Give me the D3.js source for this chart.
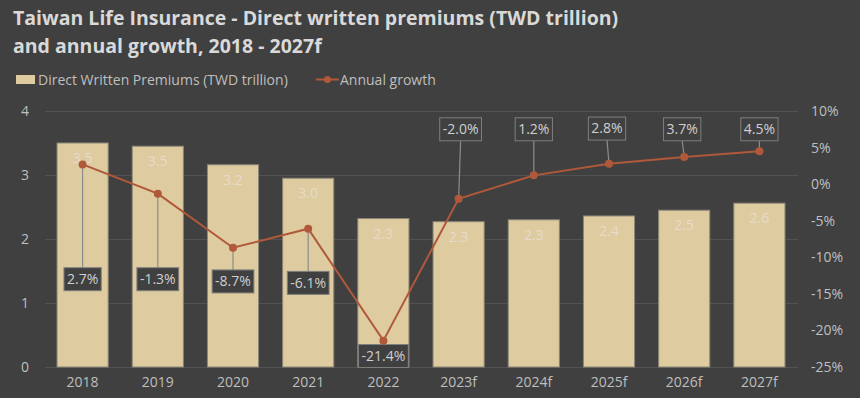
<!DOCTYPE html>
<html><head><meta charset="utf-8">
<script src="https://cdn.jsdelivr.net/npm/d3@7"></script>
<style>
html,body{margin:0;padding:0;background:#404040;}
svg{display:block;}
text{font-family:"Open Sans",Lato,sans-serif;}
</style></head>
<body>
<svg id="chart" width="860" height="398"></svg>
<script>
const categories = ["2018","2019","2020","2021","2022","2023f","2024f","2025f","2026f","2027f"];
const premiums = [3.50, 3.45, 3.16, 2.95, 2.32, 2.27, 2.30, 2.36, 2.45, 2.56];
const premiumLabels = ["3.5","3.5","3.2","3.0","2.3","2.3","2.3","2.4","2.5","2.6"];
const growth = [2.7, -1.3, -8.7, -6.1, -21.4, -2.0, 1.2, 2.8, 3.7, 4.5];
const growthLabels = ["2.7%","-1.3%","-8.7%","-6.1%","-21.4%","-2.0%","1.2%","2.8%","3.7%","4.5%"];
const leftTicks = [0,1,2,3,4];
const rightTicks = [-25,-20,-15,-10,-5,0,5,10];
// label box vertical placement (value on right axis where the callout box centre sits)
const calloutAt = [-13, -13, -13.3, -13.5, -23.5, 7.5, 7.5, 7.6, 7.5, 7.5];
const calloutDx = [0, 0, 0, 0, 0, 2, 0, -2, -2, 0];

const svg = d3.select("#chart");
const W = 860, H = 398;
const m = {left:45, right:63, top:111, bottom:31};
const x = d3.scaleBand().domain(categories).range([m.left, W - m.right]).paddingInner(0.32).paddingOuter(0.16);
const yL = d3.scaleLinear().domain([0,4]).range([H - m.bottom, m.top]);
const yR = d3.scaleLinear().domain([-25,10]).range([H - m.bottom, m.top]);
const cx = d => x(d) + x.bandwidth()/2;
const txt = "#bfbfbf";

// title
const title = svg.append("g").attr("fill","#d9d9d9").attr("font-weight","bold").attr("font-size","19.5px");
title.append("text").attr("x",13).attr("y",25).text("Taiwan Life Insurance - Direct written premiums (TWD trillion)");
title.append("text").attr("x",13).attr("y",53).text("and annual growth, 2018 - 2027f");

// legend
const lg = svg.append("g").attr("font-size","14px").attr("fill",txt);
lg.append("rect").attr("x",16).attr("y",75).attr("width",19).attr("height",9).attr("fill","#dfcba0");
lg.append("text").attr("x",38).attr("y",84.5).text("Direct Written Premiums (TWD trillion)");
lg.append("line").attr("x1",316).attr("x2",339).attr("y1",79.5).attr("y2",79.5).attr("stroke","#b0583a").attr("stroke-width",2);
lg.append("circle").attr("cx",327.5).attr("cy",79.5).attr("r",3.5).attr("fill","#b0583a");
lg.append("text").attr("x",340).attr("y",84.5).text("Annual growth");

// gridlines
svg.append("g").selectAll("line").data(leftTicks).join("line")
  .attr("x1", m.left).attr("x2", W - m.right + 1)
  .attr("y1", d => Math.round(yL(d)) + 0.5).attr("y2", d => Math.round(yL(d)) + 0.5)
  .attr("stroke", "#525252").attr("stroke-width", 1);

const styleTicks = g => g.selectAll("text").attr("fill",txt).attr("font-size","14px").attr("font-family","'Open Sans',sans-serif");

// left axis
const axL = d3.axisLeft(yL).tickValues(leftTicks).tickSize(0).tickPadding(0).tickFormat(d3.format("d"));
svg.append("g").attr("transform", `translate(29,0)`).call(axL)
  .call(g => g.select(".domain").remove()).call(styleTicks);

// right axis
const axR = d3.axisRight(yR).tickValues(rightTicks).tickSize(0).tickPadding(0).tickFormat(d => d + "%");
svg.append("g").attr("transform", `translate(811,0)`).call(axR)
  .call(g => g.select(".domain").remove()).call(styleTicks);

// x axis
const axX = d3.axisBottom(x).tickSize(0).tickPadding(0);
svg.append("g").attr("transform", `translate(0,${H - m.bottom + 10})`).call(axX)
  .call(g => g.select(".domain").remove()).call(styleTicks);

// bars
svg.append("g").selectAll("rect").data(categories).join("rect")
  .attr("x", d => x(d)).attr("width", x.bandwidth())
  .attr("y", (d,i) => yL(premiums[i])).attr("height", (d,i) => yL(0) - yL(premiums[i]))
  .attr("fill", "#dfcba0").attr("stroke", "#8a8778").attr("stroke-width", 1);

// bar labels
svg.append("g").selectAll("text").data(categories).join("text")
  .attr("x", d => cx(d)).attr("y", (d,i) => yL(premiums[i]) + 20)
  .attr("text-anchor","middle").attr("font-size","14px").attr("fill","#e6dccb")
  .text((d,i) => premiumLabels[i]);

// callouts: leader lines
const boxH = 23;
const cg = svg.append("g");
categories.forEach((c,i) => {
  const px = cx(c), py = yR(growth[i]);
  const bx = px + calloutDx[i], by = yR(calloutAt[i]);
  const below = by > py;
  cg.append("line").attr("x1", px).attr("y1", py).attr("x2", bx).attr("y2", below ? by - boxH/2 : by + boxH/2)
    .attr("stroke", "#8c8c8c").attr("stroke-width", 1.2);
});

// line
const line = d3.line().x((d,i) => cx(categories[i])).y(d => yR(d));
svg.append("path").datum(growth).attr("d", line).attr("fill","none").attr("stroke","#b0583a").attr("stroke-width",2);
svg.append("g").selectAll("circle").data(growth).join("circle")
  .attr("cx", (d,i) => cx(categories[i])).attr("cy", d => yR(d)).attr("r", 4).attr("fill","#b0583a");

// callout boxes
categories.forEach((c,i) => {
  const bx = cx(c) + calloutDx[i], by = yR(calloutAt[i]);
  const t = cg.append("text").attr("x", bx).attr("y", by).attr("dy","0.35em").attr("text-anchor","middle")
    .attr("font-size","14px").attr("fill","#cfcfcf").text(growthLabels[i]);
  const w = t.node().getComputedTextLength() + 6;
  cg.insert("rect", () => t.node()).attr("x", bx - w/2).attr("y", by - boxH/2).attr("width", w).attr("height", boxH)
    .attr("fill", "#404040").attr("stroke", "#7f7f7f").attr("stroke-width", 1);
});
</script>
</body></html>
